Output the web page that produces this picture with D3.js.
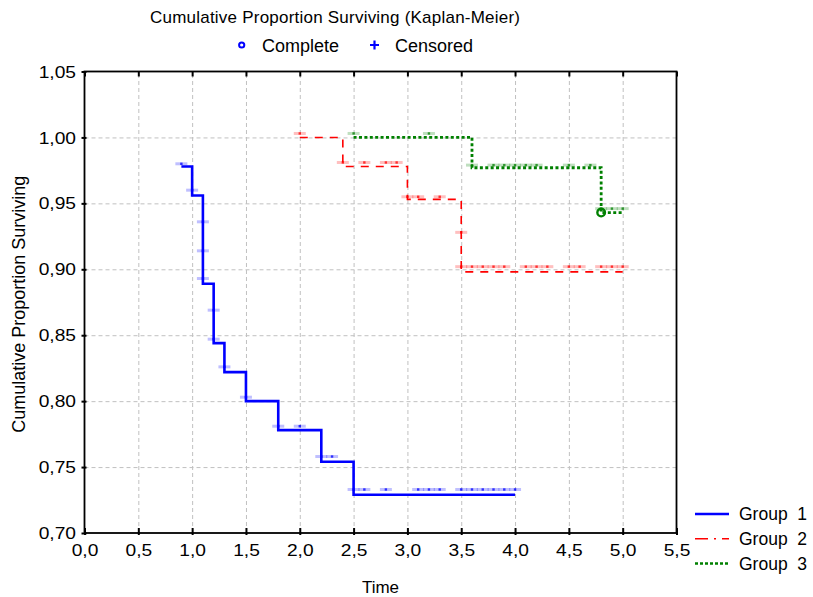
<!DOCTYPE html>
<html>
<head>
<meta charset="utf-8">
<script src="https://cdn.jsdelivr.net/npm/d3@7"></script>
<style>
  body { margin: 0; background: #fff; }
  svg { font-family: "Liberation Sans", Arial, sans-serif; }
  .grid line { stroke: #c0c0c0; stroke-dasharray: 4,3; }
  .grid path { display: none; }
</style>
</head>
<body>
<svg id="chart" width="813" height="597"></svg>
<script>
// step curves: time of each drop and the survival after it, plus where the curve ends
const g1Times = [0.9, 1.0, 1.1, 1.2, 1.3, 1.5, 1.8, 2.2, 2.5];
const g1Surv = [0.978, 0.956, 0.889, 0.844, 0.822, 0.800, 0.778, 0.754, 0.729];
const g1End = 4.0;
const g2Times = [2.0, 2.4, 3.0, 3.5];
const g2Surv = [1.000, 0.978, 0.953, 0.898];
const g2End = 5.0;
const g3Times = [2.5, 3.6, 4.8];
const g3Surv = [1.000, 0.977, 0.943];
const g3End = 5.0;

// censored observations (time, plotted value)
const g1CensT = [0.9, 1.0, 1.1, 1.1, 1.1, 1.2, 1.2, 1.3, 1.5, 1.8, 2.0, 2.2, 2.3,
  2.5, 2.6, 2.8, 3.1, 3.2, 3.3, 3.5, 3.6, 3.7, 3.8, 3.9, 4.0];
const g1CensS = [0.980, 0.960, 0.936, 0.914, 0.893, 0.869, 0.847, 0.826, 0.803, 0.781, 0.781, 0.758, 0.758,
  0.733, 0.733, 0.733, 0.733, 0.733, 0.733, 0.733, 0.733, 0.733, 0.733, 0.733, 0.733];
const g2CensT = [2.0, 2.4, 2.6, 2.8, 2.9, 3.0, 3.1, 3.3, 3.5, 3.5, 3.6, 3.7, 3.8, 3.9,
  4.1, 4.2, 4.3, 4.5, 4.6, 4.8, 4.9, 5.0];
const g2CensS = [1.003, 0.981, 0.981, 0.981, 0.981, 0.955, 0.955, 0.955, 0.928, 0.902, 0.902, 0.902, 0.902, 0.902,
  0.902, 0.902, 0.902, 0.902, 0.902, 0.902, 0.902, 0.902];
const g3CensT = [2.5, 3.2, 3.6, 3.8, 3.9, 4.0, 4.1, 4.2, 4.5, 4.7, 4.8, 4.9, 5.0];
const g3CensS = [1.003, 1.003, 0.979, 0.979, 0.979, 0.979, 0.979, 0.979, 0.979, 0.979, 0.946, 0.946, 0.946];
// complete observation drawn as a circle
const g3CompT = [4.8];
const g3CompS = [0.943];

const xTicks = [0, 0.5, 1, 1.5, 2, 2.5, 3, 3.5, 4, 4.5, 5, 5.5];
const yTicks = [0.70, 0.75, 0.80, 0.85, 0.90, 0.95, 1.00, 1.05];
const groupNames = ['Group  1', 'Group  2', 'Group  3'];
const colors = ['#0000ff', '#ff0000', '#008000'];

const margin = { left: 84.5, right: 136.5, top: 71.5, bottom: 64 };
const width = 813, height = 597;
const innerWidth = width - margin.left - margin.right;
const innerHeight = height - margin.top - margin.bottom;

const x = d3.scaleLinear().domain([0, 5.5]).range([0, innerWidth]);
const y = d3.scaleLinear().domain([0.70, 1.05]).range([innerHeight, 0]);
const comma = (f) => (d) => d3.format(f)(d).replace('.', ',');

const svg = d3.select('#chart');
const plot = svg.append('g').attr('transform', `translate(${margin.left}, ${margin.top})`);

// grid
const gx = plot.append('g').attr('class', 'grid')
  .attr('transform', `translate(0, ${innerHeight})`)
  .call(d3.axisBottom(x).tickValues(xTicks.slice(1, -1)).tickSize(-innerHeight));
const gy = plot.append('g').attr('class', 'grid')
  .call(d3.axisLeft(y).tickValues(yTicks.slice(1, -1)).tickSize(-innerWidth));
gx.selectAll('text').remove();
gy.selectAll('text').remove();

// curves
const line = d3.line().curve(d3.curveStepAfter).x((d) => x(d[0])).y((d) => y(d[1]));
const curves = [
  [g1Times, g1Surv, g1End],
  [g2Times, g2Surv, g2End],
  [g3Times, g3Surv, g3End],
];
const styles = [
  { w: 2.6, dash: null },
  { w: 1.6, dash: '8,7' },
  { w: 2.8, dash: '3,2.4' },
];
const cens = [[g1CensT, g1CensS], [g2CensT, g2CensS], [g3CensT, g3CensS]];

// censored markers first (light bars), then lines on top
cens.forEach((c, i) => {
  const pts = c[0].map((t, k) => [t, c[1][k]]);
  const mg = plot.append('g').attr('class', 'cens');
  mg.selectAll('rect.bar').data(pts).enter().append('rect')
    .attr('x', (d) => x(d[0]) - 6).attr('y', (d) => y(d[1]) - 1.5)
    .attr('width', 12).attr('height', 3)
    .attr('fill', colors[i]).attr('opacity', 0.25);
  mg.selectAll('rect.dot').data(pts).enter().append('rect')
    .attr('x', (d) => x(d[0]) - 1.2).attr('y', (d) => y(d[1]) - 1.2)
    .attr('width', 2.4).attr('height', 2.4)
    .attr('fill', colors[i]).attr('opacity', 0.75);
});

curves.forEach((c, i) => {
  const pts = c[0].map((t, k) => [t, c[1][k]]);
  pts.push([c[2], c[1][c[1].length - 1]]);
  plot.append('path')
    .datum(pts)
    .attr('d', line)
    .attr('fill', 'none')
    .attr('stroke', colors[i])
    .attr('stroke-width', styles[i].w)
    .attr('stroke-dasharray', styles[i].dash);
});

plot.selectAll('circle.comp').data(g3CompT.map((t, k) => [t, g3CompS[k]])).enter()
  .append('circle')
  .attr('cx', (d) => x(d[0])).attr('cy', (d) => y(d[1])).attr('r', 3.8)
  .attr('fill', 'none').attr('stroke', colors[2]).attr('stroke-width', 2.4);

// frame and ticks
plot.append('rect')
  .attr('width', innerWidth).attr('height', innerHeight)
  .attr('fill', 'none').attr('stroke', '#000').attr('stroke-width', 1.8);

const xAxis = plot.append('g').attr('transform', `translate(0, ${innerHeight})`)
  .call(d3.axisBottom(x).tickValues(xTicks).tickSize(-5).tickFormat(comma('.1f')));
const xTop = plot.append('g')
  .call(d3.axisTop(x).tickValues(xTicks).tickSize(-5));
xTop.selectAll('text').remove();
const yAxis = plot.append('g')
  .call(d3.axisLeft(y).tickValues(yTicks).tickSize(3).tickFormat(comma('.2f')));
[xAxis, xTop, yAxis].forEach((a) => {
  a.select('.domain').remove();
  a.selectAll('line').attr('stroke', '#000').attr('stroke-width', 2);
  a.selectAll('text').attr('fill', '#000').style('font-size', '16px');
});
xAxis.selectAll('line').attr('y2', -5).attr('y1', 2);
yAxis.selectAll('line').attr('x1', 2).attr('x2', -3);
// labels are drawn a little wider, as in the reference
yAxis.selectAll('text').attr('x', 0).attr('dy', '0.35em')
  .attr('transform', 'translate(-8.5, 0) scale(1.2, 1)');
xAxis.selectAll('text').attr('y', 0).attr('dy', '0.71em')
  .attr('transform', 'translate(0, 12) scale(1.2, 1)');

// titles
svg.append('text').attr('x', 150).attr('y', 23)
  .attr('textLength', 370).attr('lengthAdjust', 'spacing')
  .style('font-size', '17px').text('Cumulative Proportion Surviving (Kaplan-Meier)');
svg.append('text').attr('x', margin.left + innerWidth / 2).attr('y', 593)
  .attr('text-anchor', 'middle').style('font-size', '17px').text('Time');
svg.append('text')
  .attr('transform', `translate(25, ${margin.top + innerHeight / 2 + 2}) rotate(-90)`)
  .attr('text-anchor', 'middle').style('font-size', '18px')
  .text('Cumulative Proportion Surviving');

// top legend
svg.append('circle').attr('cx', 241.7).attr('cy', 45).attr('r', 2.6)
  .attr('fill', 'none').attr('stroke', '#0000ff').attr('stroke-width', 2);
svg.append('text').attr('x', 262).attr('y', 51.5).style('font-size', '18px').text('Complete');
svg.append('path').attr('d', 'M370,45h9M374.5,40.5v9').attr('stroke', '#0000ff').attr('stroke-width', 2.2);
svg.append('text').attr('x', 395).attr('y', 51.5).style('font-size', '18px').text('Censored');

// group legend
const legend = svg.append('g').attr('transform', 'translate(695, 514)');
groupNames.forEach((name, i) => {
  const row = legend.append('g').attr('transform', `translate(0, ${i * 24.8})`);
  row.append('line').attr('x1', 0).attr('x2', 34)
    .attr('stroke', colors[i])
    .attr('stroke-width', i === 1 ? 1.5 : 2.5)
    .attr('stroke-dasharray', i === 0 ? null : i === 1 ? '13,6,2,6' : '3,2');
  row.append('text').attr('x', 44).attr('y', 6).style('font-size', '17.5px')
    .style('white-space', 'pre').text(name);
});
</script>
</body>
</html>
